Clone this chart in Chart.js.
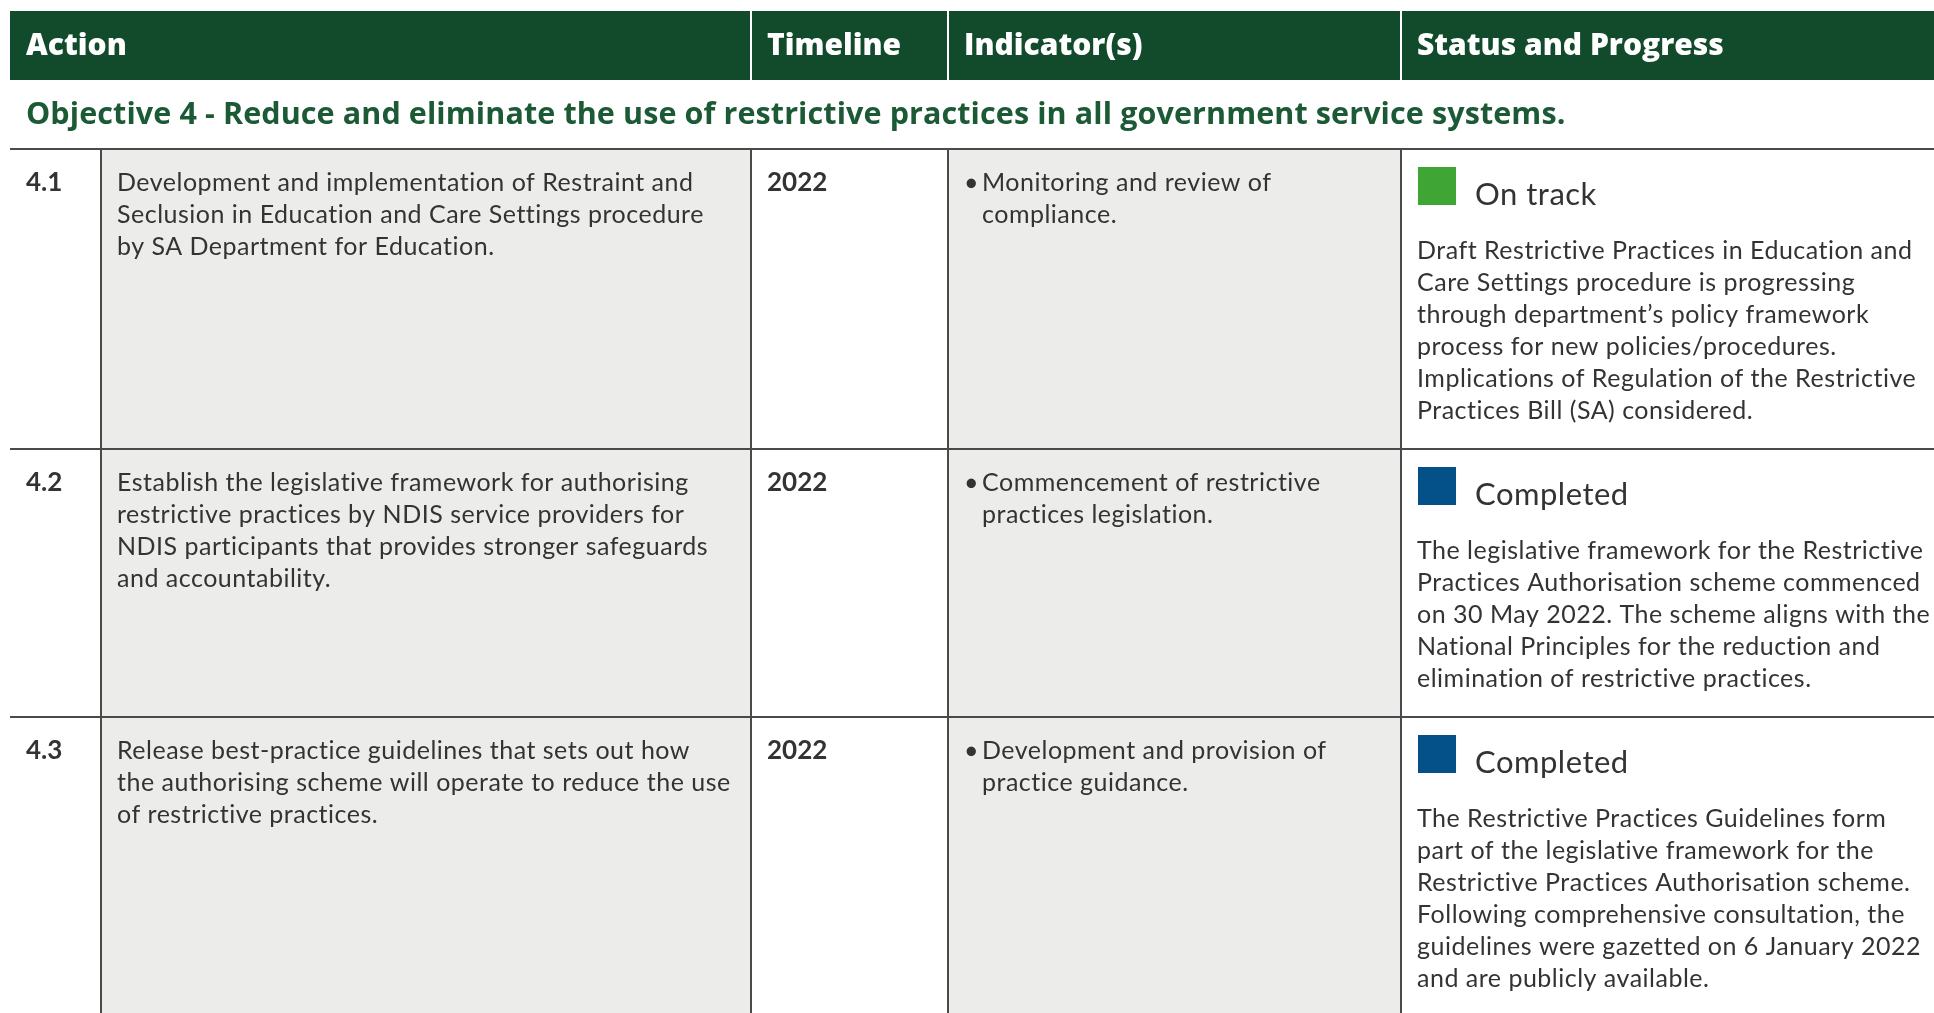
<!DOCTYPE html>
<html><head><meta charset="utf-8">
<script src="https://cdn.jsdelivr.net/npm/chart.js@4.4.1/dist/chart.umd.min.js"></script>
<style>html,body{margin:0;padding:0;background:#fff;overflow:hidden}canvas{display:block}</style>
</head><body>
<canvas id="c" width="1934" height="1013"></canvas>
<script>
// ---------- DATA ----------
const headers = ['Action', 'Timeline', 'Indicator(s)', 'Status and Progress'];
const objectiveTitle = 'Objective 4 - Reduce and eliminate the use of restrictive practices in all government service systems.';
const actionIds = ['4.1', '4.2', '4.3'];
const actionTexts = [
  ['Development and implementation of Restraint and', 'Seclusion in Education and Care Settings procedure', 'by SA Department for Education.'],
  ['Establish the legislative framework for authorising', 'restrictive practices by NDIS service providers for', 'NDIS participants that provides stronger safeguards', 'and accountability.'],
  ['Release best-practice guidelines that sets out how', 'the authorising scheme will operate to reduce the use', 'of restrictive practices.']
];
const timelines = ['2022', '2022', '2022'];
const indicators = [
  ['Monitoring and review of', 'compliance.'],
  ['Commencement of restrictive', 'practices legislation.'],
  ['Development and provision of', 'practice guidance.']
];
const statuses = ['On track', 'Completed', 'Completed'];
const statusTexts = [
  ['Draft Restrictive Practices in Education and', 'Care Settings procedure is progressing', 'through department\u2019s policy framework', 'process for new policies/procedures.', 'Implications of Regulation of the Restrictive', 'Practices Bill (SA) considered.'],
  ['The legislative framework for the Restrictive', 'Practices Authorisation scheme commenced', 'on 30 May 2022. The scheme aligns with the', 'National Principles for the reduction and', 'elimination of restrictive practices.'],
  ['The Restrictive Practices Guidelines form', 'part of the legislative framework for the', 'Restrictive Practices Authorisation scheme.', 'Following comprehensive consultation, the', 'guidelines were gazetted on 6 January 2022', 'and are publicly available.']
];

// ---------- LAYOUT / STYLE ----------
const L = {
  W: 1934, H: 1013,
  colEdges: [10, 101, 751, 948, 1401, 1934],
  headerTop: 11, headerBottom: 80, headerBaseline: 55,
  objectiveBaseline: 124,
  tableTop: 149,
  pad: 16, bulletIndent: 34,
  firstBaseline: 42, lineH: 32,
  rowBase: 140,
  squareCx: 1437, squareCyOff: 37, squareR: 26.9,
  titleX: 1475, titleBaseOff: 56,
  statusTextOff: 110
};
const C = {
  header: '#114B2C', objective: '#1C5A36', text: '#333333',
  grey: '#ECEDEB', rule: '#4A4A4A'
};
const statusColours = { 'On track': '#3FA535', 'Completed': '#045089' };
const HFONT = '"Open Sans", Lato, sans-serif';
const FONT = 'Lato, "Open Sans", sans-serif';

const rowTops = [];
(function () {
  let t = L.tableTop;
  for (let i = 0; i < statusTexts.length; i++) { rowTops.push(t); t += L.rowBase + (statusTexts[i].length - 1) * L.lineH; }
  rowTops.push(t);
})();

const tablePlugin = {
  id: 'tablePlugin',
  beforeDatasetsDraw(chart) {
    const { ctx, scales: { x, y } } = chart;
    const X = v => x.getPixelForValue(v), Y = v => y.getPixelForValue(v);
    const E = L.colEdges;
    const spacing = v => { if ('letterSpacing' in ctx) ctx.letterSpacing = v; };
    ctx.save();
    // header bar
    ctx.fillStyle = C.header;
    ctx.fillRect(X(E[0]), Y(L.headerTop), X(E[5]) - X(E[0]), Y(L.headerBottom) - Y(L.headerTop));
    ctx.strokeStyle = '#ffffff'; ctx.lineWidth = 2;
    [E[2], E[3], E[4]].forEach(e => { ctx.beginPath(); ctx.moveTo(X(e), Y(L.headerTop)); ctx.lineTo(X(e), Y(L.headerBottom)); ctx.stroke(); });
    ctx.fillStyle = '#ffffff'; ctx.font = '800 30px ' + HFONT; ctx.textBaseline = 'alphabetic';
    spacing('0px');
    [E[0], E[2], E[3], E[4]].forEach((e, i) => ctx.fillText(headers[i], X(e + L.pad), Y(L.headerBaseline)));
    // objective
    ctx.fillStyle = C.objective; ctx.font = 'bold 30.5px ' + HFONT;
    spacing('0.1px');
    ctx.fillText(objectiveTitle, X(E[0] + L.pad), Y(L.objectiveBaseline));
    // grey columns
    const bottom = Math.max(rowTops[rowTops.length - 1], L.H + 10);
    ctx.fillStyle = C.grey;
    [[E[1], E[2]], [E[3], E[4]]].forEach(([a, b]) => ctx.fillRect(X(a), Y(L.tableTop), X(b) - X(a), Y(bottom) - Y(L.tableTop)));
    // rules
    ctx.strokeStyle = C.rule; ctx.lineWidth = 2;
    rowTops.forEach(t => { ctx.beginPath(); ctx.moveTo(X(E[0]), Y(t)); ctx.lineTo(X(E[5]), Y(t)); ctx.stroke(); });
    [E[1], E[2], E[3], E[4]].forEach(e => { ctx.beginPath(); ctx.moveTo(X(e), Y(L.tableTop)); ctx.lineTo(X(e), Y(bottom)); ctx.stroke(); });
    // row text
    ctx.fillStyle = C.text;
    for (let i = 0; i < actionIds.length; i++) {
      const t = rowTops[i], b0 = t + L.firstBaseline;
      spacing('0px');
      ctx.font = 'bold 26px ' + FONT;
      ctx.fillText(actionIds[i], X(E[0] + L.pad), Y(b0));
      ctx.fillText(timelines[i], X(E[2] + L.pad), Y(b0));
      spacing('0.5px');
      ctx.font = '25px ' + FONT;
      actionTexts[i].forEach((s, k) => ctx.fillText(s, X(E[1] + L.pad), Y(b0 + k * L.lineH)));
      ctx.fillText('\u2022', X(E[3] + L.pad), Y(b0));
      indicators[i].forEach((s, k) => ctx.fillText(s, X(E[3] + L.bulletIndent), Y(b0 + k * L.lineH)));
      ctx.font = '31px ' + FONT;
      ctx.fillText(statuses[i], X(L.titleX), Y(t + L.titleBaseOff));
      ctx.font = '25px ' + FONT;
      statusTexts[i].forEach((s, k) => ctx.fillText(s, X(E[4] + L.pad), Y(t + L.statusTextOff + k * L.lineH)));
    }
    ctx.restore();
  }
};

new Chart(document.getElementById('c'), {
  type: 'scatter',
  data: {
    datasets: [{
      data: statuses.map((s, i) => ({ x: L.squareCx, y: rowTops[i] + L.squareCyOff })),
      pointStyle: 'rect', pointRadius: L.squareR, pointHoverRadius: L.squareR,
      backgroundColor: statuses.map(s => statusColours[s]), borderWidth: 0
    }]
  },
  options: {
    responsive: false, animation: false, devicePixelRatio: 1, events: [],
    layout: { padding: 0, autoPadding: false },
    plugins: { legend: { display: false }, tooltip: { enabled: false } },
    scales: {
      x: { type: 'linear', min: 0, max: L.W, display: false },
      y: { type: 'linear', min: 0, max: L.H, reverse: true, display: false }
    }
  },
  plugins: [tablePlugin]
});
</script>
</body></html>
